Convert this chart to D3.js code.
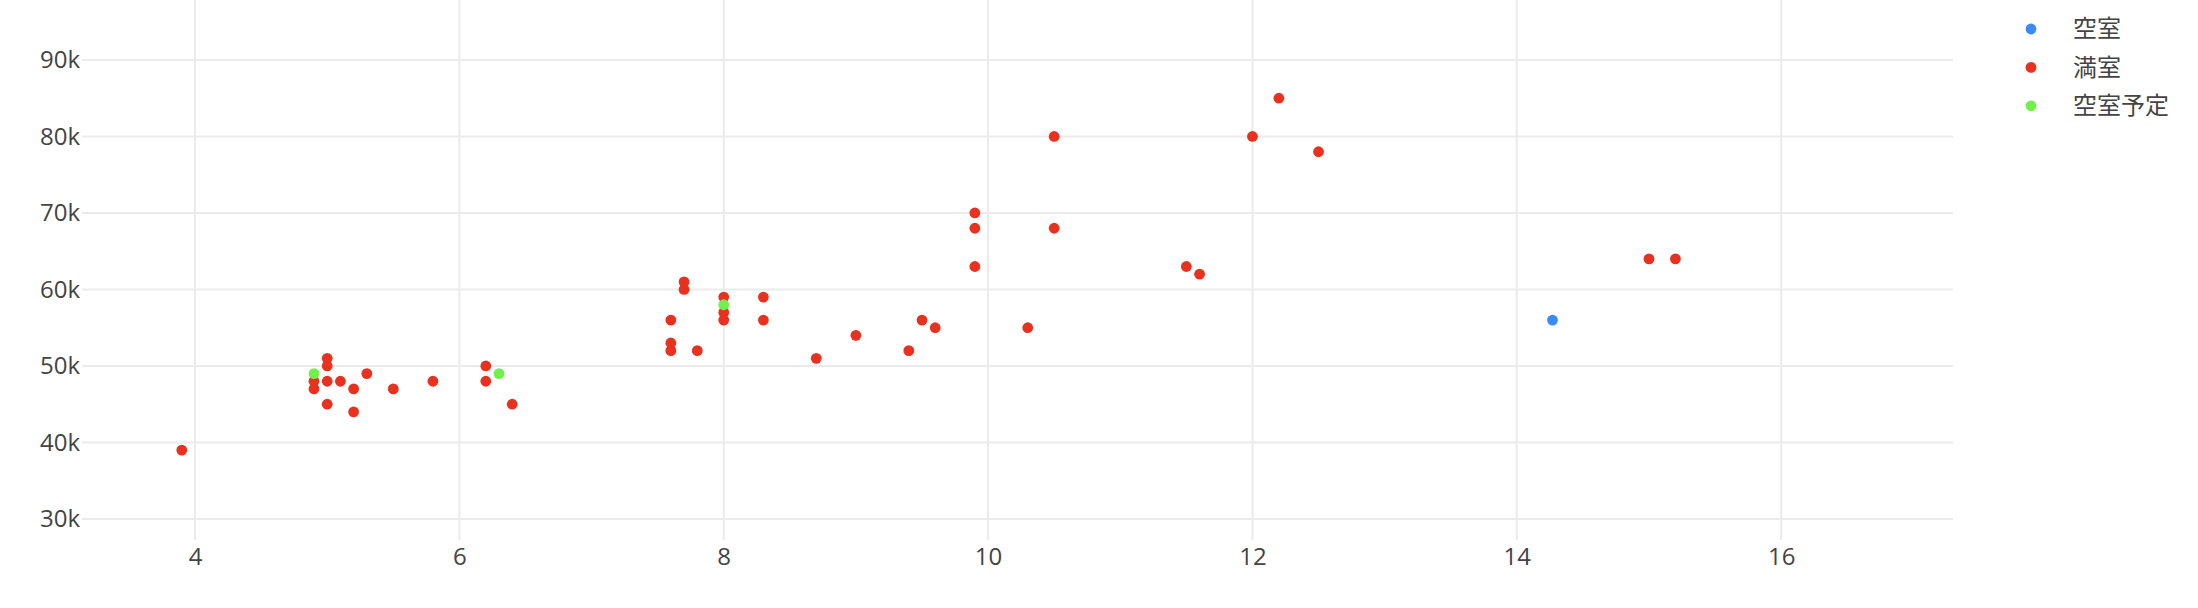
<!DOCTYPE html>
<html>
<head>
<meta charset="utf-8">
<script src="https://cdn.jsdelivr.net/npm/d3@7"></script>
<style>
  html, body { margin: 0; padding: 0; background: #fff; }
  svg text { font-family: "Open Sans", "Noto Sans CJK JP", sans-serif; fill: #444; }
</style>
</head>
<body>
<svg id="chart" width="2198" height="608"></svg>
<script>
// ---- data ----
const seriesNames = ["空室", "満室", "空室予定"];
const seriesColors = ["#3b8af6", "#e8321f", "#70f04a"];

const vacantX = [14.27];
const vacantY = [56000];

const fullX = [3.9, 4.9, 4.9, 5.0, 5.0, 5.0, 5.0, 5.1, 5.2, 5.2, 5.3, 5.5, 5.8, 6.2, 6.2, 6.4,
  7.6, 7.6, 7.6, 7.7, 7.7, 7.8, 8.0, 8.0, 8.0, 8.3, 8.3, 8.7, 9.0, 9.4, 9.5, 9.6,
  9.9, 9.9, 9.9, 10.3, 10.5, 10.5, 11.5, 11.6, 12.0, 12.2, 12.5, 15.0, 15.2];
const fullY = [39000, 48000, 47000, 51000, 50000, 48000, 45000, 48000, 47000, 44000, 49000, 47000, 48000, 50000, 48000, 45000,
  56000, 53000, 52000, 61000, 60000, 52000, 59000, 57000, 56000, 59000, 56000, 51000, 54000, 52000, 56000, 55000,
  70000, 68000, 63000, 55000, 80000, 68000, 63000, 62000, 80000, 85000, 78000, 64000, 64000];

const plannedX = [4.9, 6.3, 8.0];
const plannedY = [49000, 49000, 58000];

const xTicks = [4, 6, 8, 10, 12, 14, 16];
const yTicks = [30000, 40000, 50000, 60000, 70000, 80000, 90000];

// ---- layout ----
const svg = d3.select("#chart");
const plotLeft = 82, plotRight = 1953, plotTop = 0, plotBottom = 540;

const x = d3.scaleLinear().domain([3.145, 17.30]).range([plotLeft, plotRight]);
const y = d3.scaleLinear().domain([27250, 97840]).range([plotBottom, plotTop]);

// grid
const grid = svg.append("g");
grid.selectAll("line.v").data(xTicks).join("line").attr("class", "v")
  .attr("x1", d => x(d)).attr("x2", d => x(d))
  .attr("y1", plotTop).attr("y2", plotBottom)
  .attr("stroke", "#ebebeb").attr("stroke-width", 2);
grid.selectAll("line.h").data(yTicks).join("line").attr("class", "h")
  .attr("x1", plotLeft).attr("x2", plotRight)
  .attr("y1", d => y(d)).attr("y2", d => y(d))
  .attr("stroke", "#ebebeb").attr("stroke-width", 2);

// axes (labels only)
const xAxis = d3.axisBottom(x).tickValues(xTicks).tickSize(0).tickPadding(0).tickFormat(d3.format("d"));
const gx = svg.append("g").attr("transform", `translate(0,${plotBottom})`).call(xAxis);
gx.select(".domain").remove();
gx.selectAll("text").attr("font-size", 24).attr("dy", null).attr("y", 25).attr("fill", "#444");

const yAxis = d3.axisLeft(y).tickValues(yTicks).tickSize(0).tickPadding(2).tickFormat(d3.format("~s"));
const gy = svg.append("g").attr("transform", `translate(${plotLeft},0)`).call(yAxis);
gy.select(".domain").remove();
gy.selectAll("text").attr("font-size", 24).attr("fill", "#444");

// points
const series = [
  { name: seriesNames[0], color: seriesColors[0], xs: vacantX, ys: vacantY },
  { name: seriesNames[1], color: seriesColors[1], xs: fullX, ys: fullY },
  { name: seriesNames[2], color: seriesColors[2], xs: plannedX, ys: plannedY }
];
series.forEach(s => {
  svg.append("g").selectAll("circle")
    .data(s.xs.map((v, i) => [v, s.ys[i]]))
    .join("circle")
    .attr("cx", d => x(d[0]))
    .attr("cy", d => y(d[1]))
    .attr("r", 5.4)
    .attr("fill", s.color);
});

// legend
const legend = svg.append("g").attr("transform", "translate(2031,29)");
series.forEach((s, i) => {
  const g = legend.append("g").attr("transform", `translate(0,${i * 38.4})`);
  g.append("circle").attr("r", 5.4).attr("fill", s.color);
  g.append("text").attr("x", 42).attr("dy", "0.35em").attr("font-size", 24).text(s.name);
});
</script>
</body>
</html>
